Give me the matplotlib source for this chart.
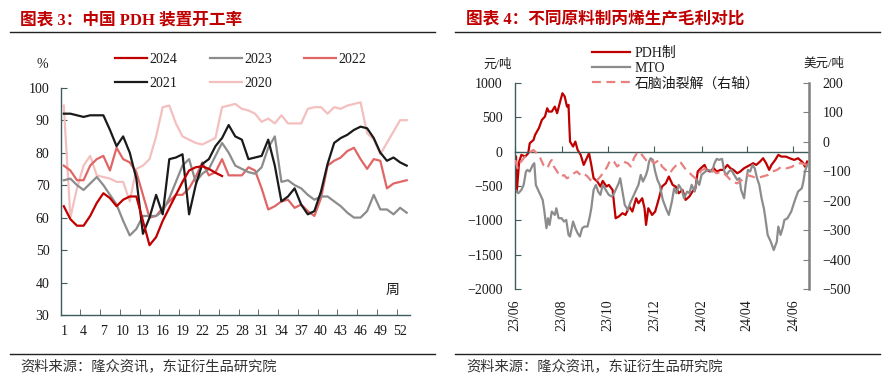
import matplotlib
matplotlib.use('Agg')
import matplotlib.pyplot as plt
from matplotlib.lines import Line2D
import numpy as np
import pandas as pd

plt.rcParams['font.family'] = ['Liberation Serif', 'Noto Sans CJK SC']

# ---------------- Left chart data: weekly PDH utilisation (%) ----------------
weeks = list(range(1, 54))
week_ticks = list(range(1, 53, 3))
y2024 = [63.5, 59.5, 57.5, 57.5, 60.5, 64.5, 67.5, 66, 63.5, 65.5, 66.5, 66.5, 59, 51.5, 54,
         59, 63, 67, 71, 74.5, 75.5, 75.8, 75, 73.8, 72.8]
y2023 = [71.5, 72, 70, 68.5, 70.5, 72.5, 70, 67, 64, 59,
         54.5, 56.5, 60.5, 60.5, 60.5, 62, 66, 71, 76, 78,
         71, 73.5, 75, 79, 83, 80, 76, 75, 74, 73.5,
         75.5, 81.5, 85, 71, 71.5, 70, 69, 67, 65.5, 66.5,
         66.5, 65, 63.5, 61.5, 60, 60, 62, 67, 62.5, 62.5,
         61, 63, 61.5]
y2022 = [76, 74.5, 71.5, 71.5, 76, 78, 79, 74.5, 81.5, 78,
         77, 74, 67, 60, 60.5, 63, 65, 67, 67, 69,
         72.5, 77, 73, 74, 78, 73, 73, 73, 75.5, 74.5,
         69, 62.5, 63.5, 65, 65.5, 63, 64, 62, 60.5, 66,
         76, 77.5, 78.5, 80.5, 81.5, 78, 75, 78, 77.5, 69,
         70.5, 71, 71.5]
y2021 = [92, 92, 91.5, 91, 91.5, 91.5, 91.5, 87, 82, 85,
         80, 72, 55, 60, 67, 61, 78, 78.5, 79.5, 61,
         70, 76.5, 78, 82, 84.5, 88.5, 85, 84, 78, 78.5,
         79, 84, 76, 65, 66.5, 69, 64, 61, 62, 68,
         76.5, 83, 84.5, 85.5, 87, 88, 87.5, 84.5, 80, 77.5,
         78.5, 77, 76]
y2020 = [94.5, 60, 69, 76, 79, 73, 72.5, 72, 71, 71,
         65, 75, 76, 78, 85, 94, 94.5, 89, 85, 84,
         83, 82.5, 83.5, 84.5, 94, 94.5, 95, 93.5, 93, 92,
         89.5, 90.5, 89, 91.5, 89, 89, 89, 93.5, 94, 94,
         92, 94, 93.5, 94.5, 95, 95.5, 86, 84, 79.5, 83,
         86.5, 90, 90]

# ---------------- Right chart data: margins ----------------
start_date = '2023-06-01'
pdh_day = [1, 2, 5, 8, 13, 17, 19, 24, 26, 31,
           35, 39, 42, 44, 48, 52, 55, 59, 62, 65,
           68, 70, 72, 76, 79, 82, 86, 90, 93, 97,
           100, 103, 108, 112, 115, 120, 123, 128, 132, 136,
           141, 145, 150, 154, 159, 162, 167, 170, 172, 175,
           180, 184, 189, 193, 198, 202, 207, 211, 215, 220,
           224, 229, 233, 237, 240, 244, 249, 252, 256, 261,
           265, 270, 274, 279, 283, 287, 292, 296, 301, 305,
           309, 313, 317, 322, 326, 330, 334, 337, 342, 346,
           350, 356, 361, 367, 372, 377, 379, 381, 384]
pdh_val = [-73, -580, -150, -48, -73, -24, 121, 169, 242, 339,
           460, 508, 629, 581, 581, 653, 557, 726, 847, 799,
           653, 678, 145, 73, 145, 24, -48, -194, -121, -24,
           -194, -387, -436, -508, -426, -508, -484, -557, -968, -944,
           -895, -920, -799, -871, -678, -750, -678, -823, -1065, -823,
           -920, -871, -678, -508, -460, -363, -484, -508, -605, -557,
           -702, -653, -581, -532, -290, -242, -194, -266, -290, -242,
           -290, -266, -266, -194, -242, -266, -315, -290, -242, -218,
           -194, -169, -194, -145, -97, -169, -266, -194, -121, -48,
           -73, -73, -97, -121, -97, -145, -169, -218, -145]
mto_day = [0, 4, 8, 11, 14, 16, 19, 23, 25, 27,
           30, 33, 36, 38, 41, 43, 45, 48, 52, 54,
           57, 61, 64, 67, 70, 72, 76, 79, 82, 85,
           88, 91, 95, 98, 100, 103, 106, 109, 112, 115,
           119, 123, 127, 130, 133, 136, 138, 141, 144, 148,
           151, 153, 156, 160, 162, 165, 168, 172, 174, 176,
           178, 181, 184, 187, 190, 194, 199, 202, 206, 209,
           212, 215, 219, 222, 226, 229, 232, 236, 239, 242,
           245, 250, 254, 259, 262, 265, 268, 272, 275, 278,
           281, 284, 288, 292, 295, 297, 301, 303, 306, 309,
           312, 315, 318, 321, 324, 327, 329, 332, 336, 340,
           344, 346, 349, 352, 354, 358, 363, 368, 372, 377,
           379, 381, 384]
mto_val = [-557, -605, -557, -484, -290, -266, -290, -194, -169, -484,
           -557, -629, -702, -847, -1113, -968, -1065, -871, -920, -823,
           -968, -968, -1016, -992, -1210, -1234, -1016, -1113, -1186, -1234,
           -1113, -1089, -1089, -944, -823, -557, -484, -581, -629, -484,
           -557, -629, -653, -605, -532, -460, -387, -581, -774, -847,
           -750, -702, -629, -532, -484, -339, -436, -339, -266, -145,
           -97, -121, -290, -411, -484, -700, -847, -920, -726, -532,
           -605, -484, -557, -678, -581, -605, -484, -581, -411, -484,
           -339, -290, -266, -290, -169, -106, -121, -106, -290, -339,
           -290, -266, -339, -411, -387, -557, -678, -484, -266, -290,
           -194, -242, -387, -484, -678, -823, -968, -1210, -1307, -1430,
           -1310, -1090, -1210, -1100, -993, -969, -872, -702, -581, -532,
           -436, -290, -194]
nap_day = [0, 3, 6, 11, 15, 20, 24, 28, 33, 37,
           42, 46, 48, 51, 55, 59, 64, 68, 72, 77,
           81, 86, 90, 95, 99, 103, 108, 112, 117, 121,
           125, 130, 134, 139, 143, 148, 152, 156, 161, 165,
           170, 174, 178, 183, 189, 193, 198, 203, 208, 212,
           217, 223, 228, 232, 237, 241, 245, 252, 259, 265,
           272, 279, 285, 292, 298, 305, 312, 318, 325, 332,
           338, 344, 350, 357, 364, 370, 377, 383]
nap_val = [-62, -90, -73, -56, -45, -34, -28, -39, -56, -79,
           -90, -68, -62, -85, -101, -118, -113, -124, -118, -107,
           -101, -113, -107, -118, -130, -135, -130, -118, -101, -84,
           -62, -68, -84, -73, -68, -73, -84, -56, -34, -39,
           -56, -68, -62, -73, -62, -84, -96, -107, -90, -79,
           -68, -90, -101, -113, -124, -113, -96, -90, -96, -107,
           -101, -118, -135, -141, -130, -113, -118, -124, -118, -113,
           -101, -96, -85, -90, -85, -73, -73, -79]
date_ticks = ['2023-06-01', '2023-08-01', '2023-10-01', '2023-12-01',
              '2024-02-01', '2024-04-01', '2024-06-01']
date_labels = ['23/06', '23/08', '23/10', '23/12', '24/02', '24/04', '24/06']

# ---------------- Figure ----------------
W, H = 892, 390
fig = plt.figure(figsize=(W / 100, H / 100), dpi=100)
RED_T = '#C00000'
SPINE = '#3E5C5C'
TXT = '#1a1a1a'


def fx(px):
    return px / W


def fy(py):
    return 1 - py / H


# Titles, rules, sources
fig.text(fx(20), fy(20), '图表 3：中国 PDH 装置开工率', color=RED_T, fontsize=12,
         fontweight='bold', va='center', ha='left')
fig.text(fx(466), fy(20), '图表 4：不同原料制丙烯生产毛利对比', color=RED_T, fontsize=12,
         fontweight='bold', va='center', ha='left')
for x0, x1 in [(10, 435), (455, 880)]:
    fig.add_artist(Line2D([fx(x0), fx(x1)], [fy(32), fy(32)], color='#222222', lw=1))
    fig.add_artist(Line2D([fx(x0), fx(x1)], [fy(354), fy(354)], color='#222222', lw=1))
fig.text(fx(20), fy(366), '资料来源：隆众资讯，东证衍生品研究院', color='#333333',
         fontsize=10.3, va='center', ha='left')
fig.text(fx(466), fy(366), '资料来源：隆众资讯，东证衍生品研究院', color='#333333',
         fontsize=10.3, va='center', ha='left')

# ---------------- Left chart ----------------
ax1 = fig.add_axes([fx(60.5), 75 / H, 349.5 / W, 227.3 / H])
c2024, c2023, c2022, c2021, c2020 = '#C00000', '#8C8C8C', '#E06666', '#1a1a1a', '#F4BFBF'
lw = 1.6
l2020, = ax1.plot(weeks, y2020, color=c2020, lw=lw, label='2020')
l2022, = ax1.plot(weeks, y2022, color=c2022, lw=lw, label='2022')
l2023, = ax1.plot(weeks, y2023, color=c2023, lw=lw, label='2023')
l2021, = ax1.plot(weeks, y2021, color=c2021, lw=lw, label='2021')
l2024, = ax1.plot(weeks[:len(y2024)], y2024, color=c2024, lw=lw, label='2024')
ax1.set_xlim(0.5, 53.5)
ax1.set_ylim(30, 100)
ax1.set_yticks(range(30, 101, 10))
ax1.set_xticks(week_ticks)
ax1.set_xticks(np.arange(3.5, 53, 3), minor=True)
ax1.tick_params(axis='x', which='major', length=0, pad=7, labelsize=10, colors=TXT)
ax1.tick_params(axis='x', which='minor', direction='in', length=4, color=SPINE)
ax1.tick_params(axis='y', direction='in', length=4, pad=8, labelsize=10, colors=TXT, color=SPINE)
for s in ['top', 'right']:
    ax1.spines[s].set_visible(False)
for s in ['left', 'bottom']:
    ax1.spines[s].set_color(SPINE)
    ax1.spines[s].set_linewidth(1.0)
ax1.text(-0.051, 1.10, '%', transform=ax1.transAxes, ha='center', va='center',
         fontsize=10, color=TXT)
ax1.text(0.950, 0.110, '周', transform=ax1.transAxes, ha='center', va='center',
         fontsize=10, color=TXT)
ax1.legend(handles=[l2024, l2021, l2023, l2020, l2022], ncol=3, frameon=False,
           loc='center left', bbox_to_anchor=(0.156, 1.073), borderaxespad=0, borderpad=0,
           handlelength=2.3, handletextpad=0.2, columnspacing=2.3, labelspacing=0.78,
           fontsize=10, labelcolor=TXT)

# ---------------- Right chart ----------------
t0 = pd.Timestamp(start_date)
pdh_x = t0 + pd.to_timedelta(pdh_day, unit='D')
mto_x = t0 + pd.to_timedelta(mto_day, unit='D')
nap_x = t0 + pd.to_timedelta(nap_day, unit='D')

ax2 = fig.add_axes([fx(515.3), (H - 289.3) / H, 293.4 / W, 206.6 / H])
ax3 = ax2.twinx()
lp, = ax2.plot(pdh_x, pdh_val, color='#C00000', lw=1.6, label='PDH制')
lm, = ax2.plot(mto_x, mto_val, color='#8C8C8C', lw=1.6, label='MTO')
ln, = ax3.plot(nap_x, nap_val, color='#E88080', lw=1.6, ls=(0, (4, 2.5)), label='石脑油裂解（右轴）')

xlo, xhi = pd.Timestamp('2023-06-01'), pd.Timestamp('2024-06-21')
ax2.set_xlim(xlo, xhi)
ax2.set_ylim(-2000, 1000)
ax2.set_yticks(range(-2000, 1001, 500))
ax3.set_ylim(-500, 200)
ax3.set_yticks(range(-500, 201, 100))

dt = pd.to_datetime(date_ticks)
ax2.spines['bottom'].set_position(('data', 0))
ax2.set_xticks(dt)
ax2.tick_params(axis='x', direction='in', length=4, labelbottom=False, color=SPINE)
sec = ax2.secondary_xaxis('bottom')
sec.set_xticks(dt, date_labels)
sec.tick_params(axis='x', length=0, pad=7, labelsize=10, labelrotation=90, colors=TXT)
sec.spines['bottom'].set_visible(False)

ax2.tick_params(axis='y', direction='in', length=4, pad=9, labelsize=10, colors=TXT, color=SPINE)
ax3.tick_params(axis='y', direction='in', length=4, pad=10, labelsize=10, colors=TXT, color='#808080')
for s in ['top', 'right']:
    ax2.spines[s].set_visible(False)
for s in ['left', 'bottom']:
    ax2.spines[s].set_color(SPINE)
    ax2.spines[s].set_linewidth(1.0)
for s in ['top', 'bottom', 'left']:
    ax3.spines[s].set_visible(False)
ax3.spines['right'].set_color('#808080')
ax3.spines['right'].set_linewidth(1.8)

ax2.text(-0.06, 1.086, '元/吨', transform=ax2.transAxes, ha='center', va='center',
         fontsize=9, color=TXT)
ax2.text(1.052, 1.094, '美元/吨', transform=ax2.transAxes, ha='center', va='center',
         fontsize=9, color=TXT)
ax3.legend(handles=[lp, lm, ln], ncol=1, frameon=False, loc='center left',
           bbox_to_anchor=(0.26, 1.069), borderaxespad=0, borderpad=0,
           handlelength=2.8, handletextpad=0.3, labelspacing=0.15, fontsize=10,
           labelcolor=TXT)

fig.savefig('out.png', dpi=100)
